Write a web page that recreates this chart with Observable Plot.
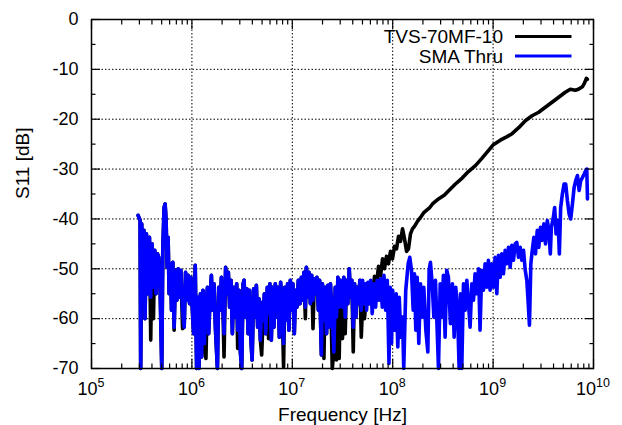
<!DOCTYPE html>
<html>
<head>
<meta charset="utf-8">
<script src="https://cdn.jsdelivr.net/npm/d3@7"></script>
<script src="https://cdn.jsdelivr.net/npm/@observablehq/plot@0.6"></script>
<style>
  html, body { margin: 0; padding: 0; background: #fff; }
  svg { display: block; }
</style>
</head>
<body>
<div id="chart"></div>
<script>
// ---------- data ----------
const seriesNames = ["TVS-70MF-10", "SMA Thru"];
const seriesColors = ["#000000", "#0000ff"];
const xTickExponents = [5, 6, 7, 8, 9, 10];
const yTicks = [0, -10, -20, -30, -40, -50, -60, -70];
const yMinorTicks = [-5, -15, -25, -35, -45, -55, -65];

// SMA Thru: log10(frequency / Hz) and S11 in dB
const smaLogF = [
  5.464,5.484,5.49,5.5,5.513,5.523,5.533,5.547,5.563,5.577,
  5.59,5.603,5.617,5.63,5.643,5.657,5.67,5.683,5.7,5.71,
  5.723,5.733,5.743,5.753,5.763,5.773,5.787,5.797,5.81,5.823,
  5.837,5.85,5.863,5.877,5.89,5.907,5.923,5.937,5.95,5.963,
  5.977,5.99,6.003,6.017,6.033,6.047,6.057,6.07,6.085,6.097,
  6.11,6.124,6.14,6.155,6.167,6.18,6.194,6.207,6.22,6.234,
  6.254,6.267,6.28,6.294,6.307,6.32,6.336,6.35,6.363,6.376,
  6.39,6.403,6.416,6.43,6.446,6.456,6.47,6.483,6.496,6.51,
  6.52,6.534,6.547,6.56,6.574,6.59,6.6,6.615,6.628,6.642,
  6.655,6.668,6.682,6.695,6.708,6.722,6.735,6.751,6.764,6.777,
  6.791,6.804,6.817,6.831,6.844,6.857,6.871,6.884,6.9,6.913,
  6.926,6.94,6.953,6.966,6.98,6.993,7.006,7.02,7.033,7.046,
  7.06,7.076,7.09,7.103,7.116,7.13,7.14,7.153,7.166,7.18,
  7.193,7.206,7.22,7.232,7.245,7.26,7.272,7.29,7.3,7.315,
  7.328,7.341,7.354,7.368,7.38,7.398,7.414,7.428,7.44,7.454,
  7.467,7.48,7.5,7.513,7.527,7.54,7.553,7.567,7.58,7.593,
  7.607,7.62,7.633,7.647,7.66,7.673,7.687,7.7,7.713,7.727,
  7.74,7.753,7.767,7.78,7.796,7.813,7.83,7.846,7.863,7.88,
  7.896,7.913,7.93,7.946,7.963,7.975,7.988,8,8.018,8.035,
  8.051,8.065,8.081,8.098,8.11,8.13,8.154,8.17,8.187,8.204,
  8.217,8.23,8.244,8.26,8.277,8.294,8.31,8.33,8.35,8.363,
  8.376,8.393,8.41,8.426,8.443,8.456,8.473,8.49,8.505,8.522,
  8.538,8.555,8.575,8.595,8.612,8.628,8.645,8.662,8.675,8.688,
  8.705,8.722,8.738,8.755,8.771,8.788,8.805,8.82,8.837,8.855,
  8.87,8.887,8.904,8.92,8.937,8.953,8.97,8.987,9.003,9.02,
  9.037,9.053,9.07,9.086,9.103,9.12,9.136,9.153,9.17,9.186,
  9.203,9.22,9.236,9.253,9.27,9.286,9.303,9.32,9.336,9.35,
  9.362,9.376,9.39,9.406,9.422,9.44,9.455,9.472,9.488,9.505,
  9.522,9.54,9.555,9.57,9.58,9.6,9.613,9.627,9.647,9.66,
  9.673,9.69,9.707,9.723,9.74,9.757,9.773,9.79,9.807,9.823,
  9.84,9.857,9.873,9.89,9.907,9.923,9.933,9.94
];
const smaDb = [
  -39.3,-40.3,-70,-41,-56.3,-42.3,-60,-43,-55,-43.7,
  -55.7,-45,-53.7,-46.3,-55,-47,-47.7,-53.7,-70,-46.3,
  -37.7,-37,-40.3,-49.7,-43.7,-55,-49,-58.3,-48.7,-61.7,
  -50.3,-56.3,-50,-55.7,-50.3,-58.3,-61.7,-50.7,-56.3,-51.3,
  -57,-51.7,-57.7,-63,-49.3,-70,-55.7,-70,-55,-67.7,
  -54.3,-65,-56.3,-53.7,-63,-56.3,-51.3,-58.3,-53,-61.7,
  -70,-53.7,-58.3,-51.7,-56.3,-63,-49.7,-55,-50.7,-57.7,
  -52.3,-63,-53.7,-59.7,-53,-62.3,-54.3,-66.7,-70,-53,
  -52.3,-59.7,-54,-63,-54.3,-65,-68.3,-54,-59.7,-53.3,
  -61.7,-56,-64.3,-56.7,-60.3,-55,-63,-53.7,-59,-53,
  -64.3,-53.7,-61.7,-53,-59.7,-53.7,-63.7,-52.7,-58.3,-65,
  -53.7,-60.3,-53,-62.3,-52.3,-58.3,-53,-63,-54.3,-57.7,
  -52.3,-57,-51.7,-56.3,-50.7,-57.7,-49.7,-55.7,-50.7,-57,
  -51.3,-56.3,-52,-55,-51.7,-58.3,-52.3,-67.3,-53,-60.3,
  -53.7,-63,-53.3,-61.7,-53,-59,-66.7,-53.7,-59.7,-51.7,
  -57.7,-52.3,-57.7,-51.7,-59.7,-52.3,-57,-50,-55.7,-52.3,
  -61.7,-53,-59.7,-53.7,-57,-52.3,-58.3,-52.3,-57,-53,
  -58.3,-52.7,-57,-52.3,-59,-53,-57.7,-52.3,-56.3,-52,
  -57.7,-51.3,-58.3,-52.3,-69,-53.7,-65,-54.3,-62.3,-55,
  -65.7,-55.7,-63.7,-59.7,-70,-54.3,-49,-47.7,-50.3,-58.3,
  -51,-62.3,-51.7,-65,-53,-59.7,-53.7,-62.3,-66.7,-50.3,
  -48.7,-53,-59.7,-52.3,-62.3,-70,-53,-59.7,-51.3,-63.7,
  -50.3,-51.7,-61,-53,-63.7,-53.7,-58.3,-70,-55,-70,
  -53,-58.3,-52.3,-57,-61.7,-53,-56.3,-51,-55,-50,
  -62.3,-50.3,-54.3,-49,-53.7,-48.3,-54.3,-49,-53.7,-47.7,
  -55,-47.3,-51.7,-47,-51,-46.3,-49,-45.7,-49.7,-45.3,
  -48.3,-45,-44.7,-47.7,-45.7,-48.3,-46.3,-50.3,-52.3,-57,
  -61.3,-49,-46.3,-43.7,-47,-42.3,-45.7,-41.7,-44.3,-41,
  -45,-40.3,-42.3,-47,-41.7,-39.7,-37.7,-43,-40.3,-47,
  -37.7,-35,-33,-33,-36.3,-39,-40,-37,-33.7,-32.3,
  -31.3,-34.3,-32.3,-31.7,-31,-30.3,-30,-36
];

// TVS-70MF-10, low band: same sweep points as the first 167 SMA points
const tvsLowDb = [
  -39.3,-40.3,-70,-41,-56.3,-42.3,-60,-43,-55,-43.7,
  -64.3,-45,-60,-46.3,-55,-47,-47.7,-53.7,-70,-46.3,
  -37.7,-37,-40.3,-49.7,-43.7,-55,-49,-58.3,-48.7,-62.3,
  -50.3,-56.3,-50,-55.7,-50.3,-62,-61.7,-50.7,-56.3,-51.3,
  -57,-51.7,-57.7,-63,-49.3,-70,-55.7,-70,-55,-67.7,
  -54.3,-65,-68,-53.7,-63,-56.3,-51.3,-58.3,-53,-61.7,
  -70,-53.7,-58.3,-51.7,-56.3,-67.7,-49.7,-55,-50.7,-57.7,
  -52.3,-63,-53.7,-59.7,-53,-66,-54.3,-66.7,-70,-53,
  -52.3,-59.7,-54,-63,-54.3,-65,-68.3,-54,-59.7,-53.3,
  -61.7,-56,-64.3,-67.3,-60.3,-55,-63,-53.7,-64,-53,
  -64.3,-53.7,-61.7,-53,-59.7,-53.7,-63.7,-52.7,-58.3,-69.7,
  -53.7,-60.3,-53,-62.3,-52.3,-58.3,-53,-63,-54.3,-57.7,
  -52.3,-57,-51.7,-56.3,-50.7,-60,-49.7,-55.7,-50.7,-57,
  -51.3,-62,-52,-55,-51.7,-58.3,-52.3,-67.3,-53,-68,
  -53.7,-63,-53.3,-61.7,-53,-70,-66.7,-53.7,-68.3,-51.7,
  -68,-52.3,-64,-51.7,-63,-52.3,-57,-50,-55.7,-52.3,
  -66.7,-53,-59.7,-53.7,-57,-52.3,-63.7
];
// TVS-70MF-10, rising part
const tvsHighLogF = [
  7.7,7.719,7.739,7.759,7.779,7.799,7.819,7.839,7.859,7.879,
  7.899,7.918,7.938,7.958,7.978,7.998,8.018,8.038,8.058,8.078,
  8.098,8.118,8.138,8.157,8.177,8.197,8.217,8.247,8.277,8.307,
  8.336,8.366,8.396,8.426,8.456,8.486,8.516,8.545,8.575,8.625,
  8.692,8.754,8.824,8.89,8.953,9.003,9.072,9.139,9.189,9.255,
  9.321,9.388,9.454,9.52,9.587,9.653,9.719,9.769,9.819,9.849,
  9.889,9.909,9.929,9.939
];
const tvsHighDb = [
  -57,-60,-55,-57,-53.5,-55,-51.5,-53,-49.5,-51.5,
  -48,-50,-47.5,-49,-46.5,-48,-45.5,-46,-43.5,-44.5,
  -42,-44,-46.5,-46,-43,-42,-41.5,-40.5,-39.7,-38.8,
  -38.3,-37.8,-37,-36.5,-36,-35.6,-35.2,-34.6,-34,-33,
  -31.8,-30.5,-29.3,-27.8,-26.3,-25.1,-24.2,-23.5,-22.9,-21.7,
  -20.3,-19.3,-18.6,-17.6,-16.6,-15.6,-14.6,-14,-14.2,-14,
  -13.5,-12.8,-11.8,-12
];

// ---------- tables ----------
const smaData = smaLogF.map((e, i) => ({f: 10 ** e, db: smaDb[i]}));
const tvsData = tvsLowDb.map((d, i) => ({f: 10 ** smaLogF[i], db: d}))
  .concat(tvsHighLogF.map((e, i) => ({f: 10 ** e, db: tvsHighDb[i]})));

const xMajor = xTickExponents.map(e => 10 ** e);
const xMinor = [];
for (const e of xTickExponents.slice(0, -1)) for (const m of [2,3,4,5,6,7,8,9]) xMinor.push(m * 10 ** e);

const FONT = "'Liberation Sans', Arial, Helvetica, sans-serif";

function xTickLabels(index, scales, values, dims) {
  const g = d3.create("svg:g")
    .attr("font-family", FONT).attr("font-size", 18)
    .attr("text-anchor", "middle").attr("fill", "black");
  const base = dims.height - dims.marginBottom + 27;
  xTickExponents.forEach(e => {
    const t = g.append("text").attr("x", scales.x(10 ** e)).attr("y", base);
    t.append("tspan").text("10");
    t.append("tspan").attr("dy", -8).attr("font-size", 12.5).text(String(e));
  });
  return g.node();
}

function legendMark(index, scales, values, dims) {
  const right = dims.width - dims.marginRight;
  const g = d3.create("svg:g").attr("font-family", FONT).attr("font-size", 19);
  seriesNames.forEach((name, i) => {
    const y = dims.marginTop + 17.5 + 19.5 * i;
    g.append("text").attr("x", right - 90).attr("y", y).attr("dy", "0.35em")
      .attr("text-anchor", "end").attr("fill", "black").text(name);
    g.append("line").attr("x1", right - 78).attr("x2", right - 21.5)
      .attr("y1", y).attr("y2", y)
      .attr("stroke", seriesColors[i]).attr("stroke-width", 3);
  });
  return g.node();
}

const blank = () => "";
const tickStyle = {label: null, stroke: "black", strokeWidth: 1.2};

const chart = Plot.plot({
  width: 622,
  height: 425,
  marginLeft: 91,
  marginRight: 29,
  marginTop: 19,
  marginBottom: 57,
  style: {fontFamily: FONT, fontSize: "18px", color: "black", background: "white", overflow: "visible"},
  x: {type: "log", domain: [1e5, 1e10], label: null},
  y: {domain: [-70, 0], label: null},
  marks: [
    Plot.gridX(xMajor, {stroke: "black", strokeOpacity: 1, strokeWidth: 1, strokeDasharray: "1.5,2"}),
    Plot.gridY(yTicks, {stroke: "black", strokeOpacity: 1, strokeWidth: 1, strokeDasharray: "1.5,2"}),
    Plot.line(tvsData, {x: "f", y: "db", stroke: seriesColors[0], strokeWidth: 3.6, strokeLinejoin: "round"}),
    Plot.line(smaData, {x: "f", y: "db", stroke: seriesColors[1], strokeWidth: 3.6, strokeLinejoin: "round"}),
    Plot.frame({stroke: "black", strokeWidth: 1.5}),
    Plot.axisY(yTicks, {anchor: "left", tickSize: -9, tickPadding: 22, tickFormat: d => String(d), fontSize: 18, ...tickStyle}),
    Plot.axisY(yMinorTicks, {anchor: "left", tickSize: -4.5, tickFormat: blank, ...tickStyle}),
    Plot.axisY(yTicks, {anchor: "right", tickSize: -9, tickFormat: blank, ...tickStyle}),
    Plot.axisY(yMinorTicks, {anchor: "right", tickSize: -4.5, tickFormat: blank, ...tickStyle}),
    Plot.axisX(xMajor, {anchor: "bottom", tickSize: -9, tickFormat: blank, ...tickStyle}),
    Plot.axisX(xMinor, {anchor: "bottom", tickSize: -4.5, tickFormat: blank, ...tickStyle}),
    Plot.axisX(xMajor, {anchor: "top", tickSize: -9, tickFormat: blank, ...tickStyle}),
    Plot.axisX(xMinor, {anchor: "top", tickSize: -4.5, tickFormat: blank, ...tickStyle}),
    xTickLabels,
    Plot.text(["Frequency [Hz]"], {frameAnchor: "bottom", dy: 52, fontSize: 19, fill: "black"}),
    Plot.text(["S11 [dB]"], {frameAnchor: "left", rotate: -90, dx: -68.5, dy: 5, fontSize: 19, fill: "black"}),
    legendMark
  ]
});
document.getElementById("chart").appendChild(chart);
</script>
</body>
</html>
